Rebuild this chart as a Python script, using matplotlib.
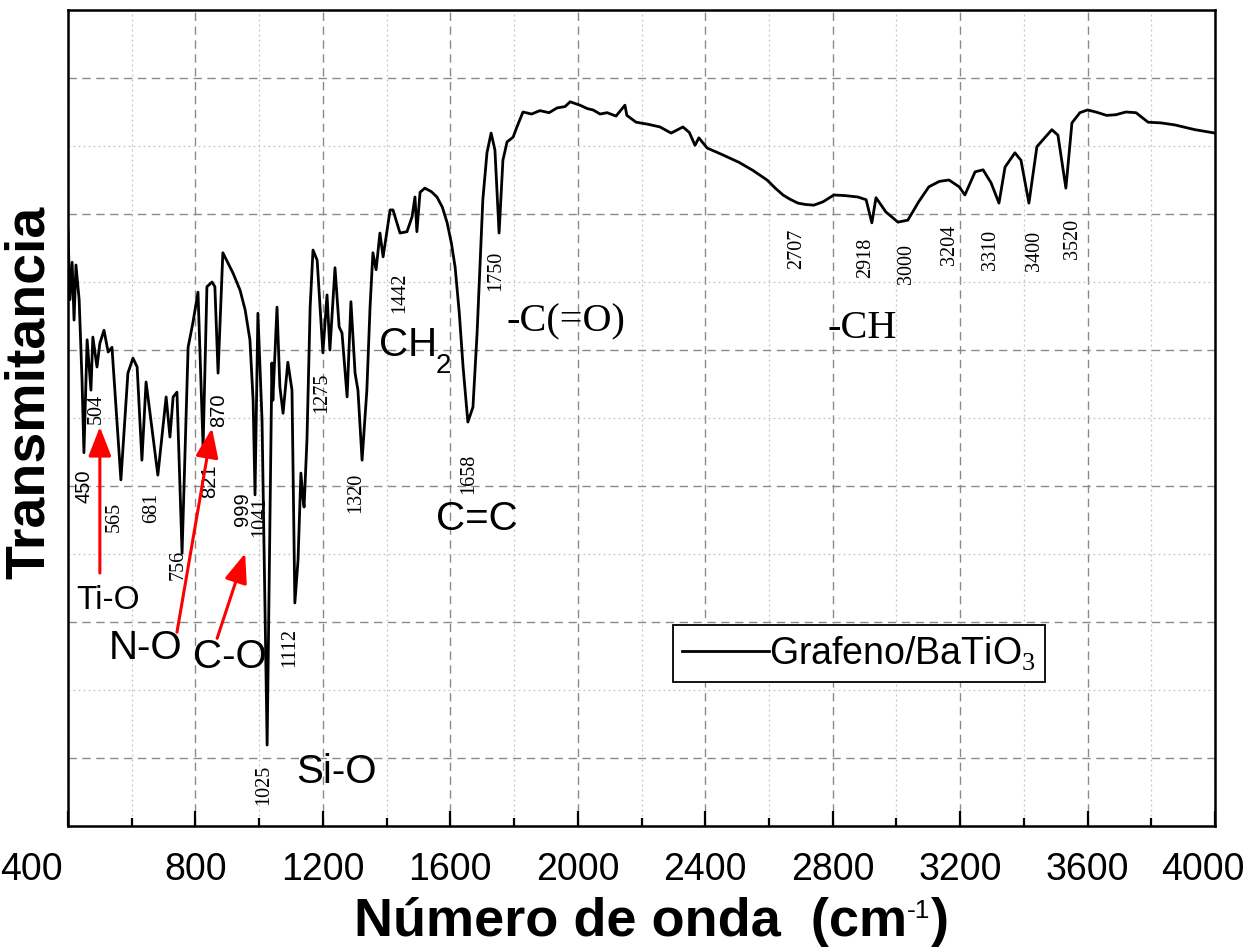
import matplotlib
matplotlib.use("Agg")
import matplotlib.pyplot as plt
from matplotlib.ticker import MultipleLocator
from matplotlib.transforms import blended_transform_factory

SANS = 'Liberation Sans'
SERIF = 'Liberation Serif'

plt.rcParams['mathtext.fontset'] = 'custom'
plt.rcParams['mathtext.rm'] = SERIF

# ---- data: FTIR spectrum (wavenumber cm^-1, transmittance a.u.) ----
wavenumber = [400, 406, 413, 419, 425, 435, 444, 450, 460, 472, 478, 491, 500, 513, 526, 538,
              566, 588, 604, 617, 632, 645, 682, 708, 720, 730, 742, 758, 777, 792, 808, 824,
              836, 852, 861, 871, 886, 918, 940, 956, 971, 981, 987, 996, 1009, 1025, 1040,
              1043, 1056, 1065, 1075, 1090, 1103, 1112, 1122, 1131, 1138, 1141, 1150, 1160,
              1169, 1182, 1200, 1213, 1222, 1238, 1251, 1260, 1276, 1288, 1301, 1310, 1323,
              1338, 1348, 1357, 1367, 1379, 1389, 1411, 1420, 1442, 1464, 1480, 1489, 1495,
              1505, 1520, 1540, 1558, 1575, 1590, 1603, 1615, 1628, 1640, 1655, 1671, 1684,
              1702, 1715, 1728, 1740, 1753, 1765, 1778, 1797, 1809, 1828, 1855, 1881, 1910,
              1935, 1960, 1976, 2007, 2030, 2048, 2070, 2092, 2120, 2148, 2154, 2183, 2220,
              2258, 2293, 2330, 2350, 2368, 2380, 2406, 2450, 2506, 2550, 2594, 2620, 2644,
              2665, 2691, 2715, 2741, 2770, 2804, 2840, 2879, 2905, 2923, 2936, 2967, 3005,
              3036, 3070, 3102, 3135, 3165, 3197, 3215, 3247, 3272, 3297, 3322, 3341, 3372,
              3391, 3416, 3441, 3488, 3507, 3532, 3551, 3576, 3600, 3626, 3660, 3689, 3720,
              3752, 3790, 3830, 3874, 3937, 4000]
transmittance = [8.76, 7.74, 8.29, 7.44, 8.25, 7.74, 6.56, 5.49, 7.15, 6.41, 7.19, 6.75, 7.10,
                 7.29, 6.97, 7.04, 5.09, 6.66, 6.88, 6.75, 5.38, 6.53, 5.16, 6.31, 5.72, 6.31,
                 6.38, 4.01, 7.04, 7.40, 7.85, 5.57, 7.93, 8.00, 7.93, 6.66, 8.43, 8.13, 7.88,
                 7.59, 7.15, 6.26, 4.87, 7.54, 5.97, 1.19, 6.81, 6.26, 7.63, 6.46, 6.07, 6.82,
                 6.41, 3.28, 3.91, 5.19, 4.79, 4.69, 5.68, 7.63, 8.47, 8.32, 6.96, 7.81, 7.00,
                 8.21, 7.34, 7.25, 6.31, 7.71, 6.66, 6.41, 5.38, 6.41, 7.63, 8.43, 8.18, 8.72,
                 8.37, 9.06, 9.06, 8.72, 8.74, 8.96, 9.25, 8.74, 9.32, 9.38, 9.33, 9.25, 9.10,
                 8.87, 8.58, 8.22, 7.55, 6.75, 5.94, 6.16, 7.25, 9.21, 9.90, 10.19, 9.94, 8.72,
                 9.79, 10.06, 10.13, 10.28, 10.50, 10.47, 10.52, 10.49, 10.56, 10.58, 10.65,
                 10.60, 10.55, 10.53, 10.47, 10.49, 10.44, 10.60, 10.45, 10.35, 10.32, 10.28,
                 10.19, 10.28, 10.20, 10.01, 10.12, 9.97, 9.88, 9.76, 9.64, 9.50, 9.38, 9.28,
                 9.22, 9.16, 9.14, 9.13, 9.18, 9.28, 9.27, 9.25, 9.21, 8.87, 9.24, 9.03, 8.88,
                 8.91, 9.18, 9.40, 9.48, 9.50, 9.40, 9.28, 9.62, 9.65, 9.46, 9.16, 9.69, 9.90,
                 9.79, 9.16, 9.99, 10.24, 10.16, 9.38, 10.34, 10.49, 10.53, 10.50, 10.45,
                 10.46, 10.50, 10.49, 10.35, 10.34, 10.31, 10.24, 10.19]

tick_values = [400, 800, 1200, 1600, 2000, 2400, 2800, 3200, 3600, 4000]
tick_labels = ['400', '800', '1200', '1600', '2000', '2400', '2800', '3200', '3600', '4000']

# peak labels
peak_text = ['450', '504', '565', '681', '756', '821', '870', '999', '1041', '1025', '1112',
             '1275', '1320', '1442', '1658', '1750', '2707', '2918', '3000', '3204', '3310',
             '3400', '3520']
peak_x = [450, 488, 544, 664, 745, 843, 874, 949, 1003, 1015, 1097, 1197, 1304, 1442, 1659,
          1743, 2688, 2905, 3033, 3168, 3294, 3432, 3554]
peak_y = [4.99, 6.13, 4.54, 4.68, 3.84, 5.07, 6.12, 4.66, 4.54, 0.60, 2.63, 6.37, 4.90, 7.84,
          5.18, 8.16, 8.49, 8.35, 8.26, 8.54, 8.47, 8.46, 8.63]
peak_sans = ['450', '821', '870', '999']

# group labels
group_text = ['Ti-O', 'N-O', 'C-O', 'Si-O', 'CH', 'C=C']
group_x = [526, 645, 908, 1244, 1467, 1684]
group_y = [3.31, 2.62, 2.49, 0.79, 7.07, 4.51]
group_size = [24, 29, 29, 29, 29, 29]
serif_text = ['-C(=O)', '-CH']
serif_x = [1963, 2892]
serif_y = [7.41, 7.32]

# arrows (tail -> head)
arrow_tail = [(500, 3.72), (742, 2.85), (868, 2.76)]
arrow_head = [(500, 5.87), (852, 5.85), (956, 4.01)]

fig = plt.figure(figsize=(12.47, 9.49), dpi=100)
ax = fig.add_axes([68/1247, 1-826/949, (1215-68)/1247, (826-10)/949])

ax.plot(wavenumber, transmittance, color='black', lw=2.0, label='Grafeno/BaTiO$_\\mathrm{3}$',
        zorder=3, solid_joinstyle='round')

ax.set_xlim(400, 4000)
ax.set_ylim(0, 12)
ax.set_xticks(tick_values, [''] + tick_labels[1:-1] + [''])
ax.xaxis.set_minor_locator(MultipleLocator(200))
ax.set_yticks([1, 3, 5, 7, 9, 11])
ax.set_yticks([0, 2, 4, 6, 8, 10, 12], minor=True)

ax.grid(which='major', color='#8a8a8a', ls=(0, (6, 4)), lw=1.0)
ax.grid(which='minor', color='#c4c4c4', ls=(0, (1.5, 2.5)), lw=0.9)
ax.set_axisbelow(True)

ax.tick_params(axis='y', which='both', left=False, labelleft=False)
ax.tick_params(axis='x', which='major', direction='in', length=11, width=1.6, top=False,
               pad=19, labelsize=27)
ax.tick_params(axis='x', which='minor', direction='in', length=5.5, width=1.6, top=False)
for lab in ax.get_xticklabels():
    lab.set_fontfamily(SANS)
for s in ax.spines.values():
    s.set_linewidth(1.8)

# edge tick labels, nudged inside the figure as in the reference
btrans = blended_transform_factory(ax.transData, fig.transFigure)
ax.text(284, 1-870/949, tick_labels[0], transform=btrans, ha='center', va='center',
        fontsize=27, family=SANS, clip_on=False)
ax.text(3962, 1-870/949, tick_labels[-1], transform=btrans, ha='center', va='center',
        fontsize=27, family=SANS, clip_on=False)

for t, x, y in zip(peak_text, peak_x, peak_y):
    fam = SANS if t in peak_sans else SERIF
    ax.text(x, y, t, rotation=90, ha='center', va='center', fontsize=14.5, family=fam, zorder=4)

for t, x, y, s in zip(group_text, group_x, group_y, group_size):
    ax.text(x, y, t, ha='center', va='center', fontsize=s, family=SANS, zorder=4)
ax.text(1577, 6.76, '2', ha='center', va='center', fontsize=20, family=SANS, zorder=4)
for t, x, y in zip(serif_text, serif_x, serif_y):
    ax.text(x, y, t, ha='center', va='center', fontsize=29, family=SERIF, zorder=4)

for tail, head in zip(arrow_tail, arrow_head):
    ax.annotate('', xy=head, xytext=tail,
                arrowprops=dict(arrowstyle='-|>,head_length=0.9,head_width=0.35',
                                color='red', lw=2.2, mutation_scale=20, shrinkA=0, shrinkB=0),
                zorder=5)

leg = ax.legend(loc='upper left', bbox_to_anchor=((673-68)/1147, (826-625)/816),
                borderaxespad=0, fancybox=False, framealpha=1, edgecolor='black',
                prop={'family': SANS, 'size': 27}, handlelength=2.3, handletextpad=0.0,
                borderpad=0.25)
leg.get_frame().set_linewidth(1.3)
for line in leg.get_lines():
    line.set_linewidth(2.0)

fig.text(30/1247, 1-392/949, 'Transmitancia', rotation=90, ha='center', va='center',
         fontsize=40, fontweight='bold', family=SANS)

# x-axis title with a small superscript
t1 = fig.text(354/1247, 1-936/949, 'Número de onda  (cm', ha='left', va='baseline',
              fontsize=39, fontweight='bold', family=SANS)
a2 = fig.add_artist(plt.Annotation('-1', xy=(1.0, 0.97), xycoords=t1, ha='left', va='top',
                                   fontsize=19, family=SANS))
a3 = fig.add_artist(plt.Annotation(')', xy=(1.0, 0.0), xycoords=(a2, t1), ha='left',
                                   va='bottom', fontsize=39, fontweight='bold', family=SANS))

fig.savefig('out.png', dpi=100)
